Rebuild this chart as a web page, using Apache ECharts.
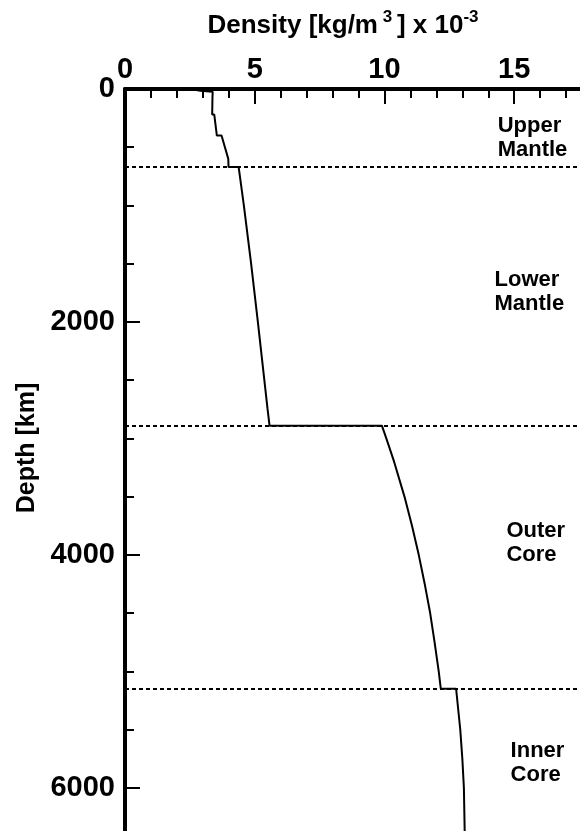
<!DOCTYPE html>
<html>
<head>
<meta charset="utf-8">
<title>Density profile of the Earth</title>
<script src="https://cdn.jsdelivr.net/npm/echarts@6/dist/echarts.min.js"></script>
<style>
  html, body { margin: 0; padding: 0; background: #fff; }
  #chart { width: 580px; height: 831px; }
</style>
</head>
<body>
<div id="chart"></div>
<script>
// Radial density model: depth (km) and density (kg/m^3 x 10^-3), top to centre.
const depthKm = [0, 3, 3, 15, 15, 24.4, 24.4, 80, 220, 220, 400, 400, 600, 670, 670,
  1000, 1500, 2000, 2500, 2741, 2891, 2891, 3000, 3200, 3500, 3750, 4000, 4250,
  4500, 4750, 5000, 5150, 5150, 5500, 5750, 6000, 6371];
const density = [1.02, 1.02, 2.60, 2.60, 2.90, 2.90, 3.38, 3.37, 3.36, 3.44, 3.54, 3.72, 3.98, 3.99, 4.38,
  4.58, 4.86, 5.12, 5.37, 5.49, 5.57, 9.90, 10.07, 10.37, 10.77, 11.06, 11.32, 11.55,
  11.76, 11.93, 12.09, 12.17, 12.76, 12.92, 13.00, 13.06, 13.09];

// Layer boundaries (km): 670 km discontinuity, core-mantle boundary, inner-core boundary.
const boundaryDepths = [670, 2891, 5150];

// Layer names
const zoneNames = ['Upper\nMantle', 'Lower\nMantle', 'Outer\nCore', 'Inner\nCore'];

// Where each layer name sits (density at its left edge, depth of the block's middle)
const zoneAnchorDensity = [14.36, 14.24, 14.70, 14.86];
const zoneAnchorDepth = [424, 1740, 3899, 5784];

const FONT = '"Liberation Sans", Arial, Helvetica, sans-serif';

const profile = depthKm.map((d, i) => [density[i], d]);
const zoneData = zoneNames.map((n, i) => ({ value: [zoneAnchorDensity[i], zoneAnchorDepth[i]], name: n }));

const chart = echarts.init(document.getElementById('chart'), null, { renderer: 'canvas' });

const axisCommon = {
  type: 'value',
  min: 0,
  splitLine: { show: false },
  axisLine: { show: true, lineStyle: { color: '#000', width: 4 } },
  axisTick: { show: true, inside: true, length: 15, lineStyle: { color: '#000', width: 2 } },
  minorTick: { show: true, length: 9, lineStyle: { color: '#000', width: 2 } },
  minorSplitLine: { show: false },
  axisLabel: {
    color: '#000', fontFamily: FONT, fontWeight: 'bold', fontSize: 29,
    showMaxLabel: false,
    formatter: v => String(v)
  }
};

chart.setOption({
  animation: false,
  backgroundColor: '#fff',
  // the plot runs a few pixels past the right and bottom edges of the canvas
  grid: {
    left: 125, top: 89, width: 458, height: 748,
    containLabel: false, outerBoundsMode: 'none'
  },
  xAxis: Object.assign({}, axisCommon, {
    position: 'top',
    offset: 3,
    max: 17.65,
    interval: 5,
    minorTick: Object.assign({}, axisCommon.minorTick, { splitNumber: 5 }),
    axisLabel: Object.assign({}, axisCommon.axisLabel, { margin: 2 }),
    name: '{b|Density [kg/m}{sup| 3 }{b|] x 10}{sup|-3}',
    nameLocation: 'middle',
    nameGap: 47,
    nameTextStyle: {
      padding: [0, 22, 0, 0],
      rich: {
        b: { fontFamily: FONT, fontWeight: 'bold', fontSize: 26, color: '#000', lineHeight: 30, verticalAlign: 'bottom' },
        sup: { fontFamily: FONT, fontWeight: 'bold', fontSize: 17, color: '#000', lineHeight: 24, verticalAlign: 'top' }
      }
    }
  }),
  yAxis: Object.assign({}, axisCommon, {
    position: 'left',
    inverse: true,
    max: 6423,
    interval: 2000,
    minorTick: Object.assign({}, axisCommon.minorTick, { splitNumber: 4 }),
    axisLabel: Object.assign({}, axisCommon.axisLabel, { margin: 10 }),
    name: 'Depth [km]',
    nameLocation: 'middle',
    nameGap: 73,
    nameTextStyle: {
      fontFamily: FONT, fontWeight: 'bold', fontSize: 25, color: '#000',
      padding: [0, 0, 0, 30]
    }
  }),
  series: [
    {
      name: 'Density',
      type: 'line',
      data: profile,
      showSymbol: false,
      symbol: 'none',
      lineStyle: { color: '#000', width: 2 },
      silent: true,
      markLine: {
        silent: true,
        symbol: ['none', 'none'],
        label: { show: false },
        lineStyle: { color: '#000', width: 2, type: [4, 3], opacity: 1 },
        data: boundaryDepths.map(d => ({ yAxis: d }))
      },
      z: 3
    },
    {
      name: 'Layers',
      type: 'scatter',
      data: zoneData,
      symbolSize: 0,
      itemStyle: { color: '#000', opacity: 1 },
      silent: true,
      label: {
        show: true,
        position: 'right',
        distance: 0,
        align: 'left',
        verticalAlign: 'middle',
        formatter: p => p.name,
        fontFamily: FONT,
        fontWeight: 'bold',
        fontSize: 22,
        lineHeight: 24,
        color: '#000',
        opacity: 1
      }
    }
  ]
});
</script>
</body>
</html>
